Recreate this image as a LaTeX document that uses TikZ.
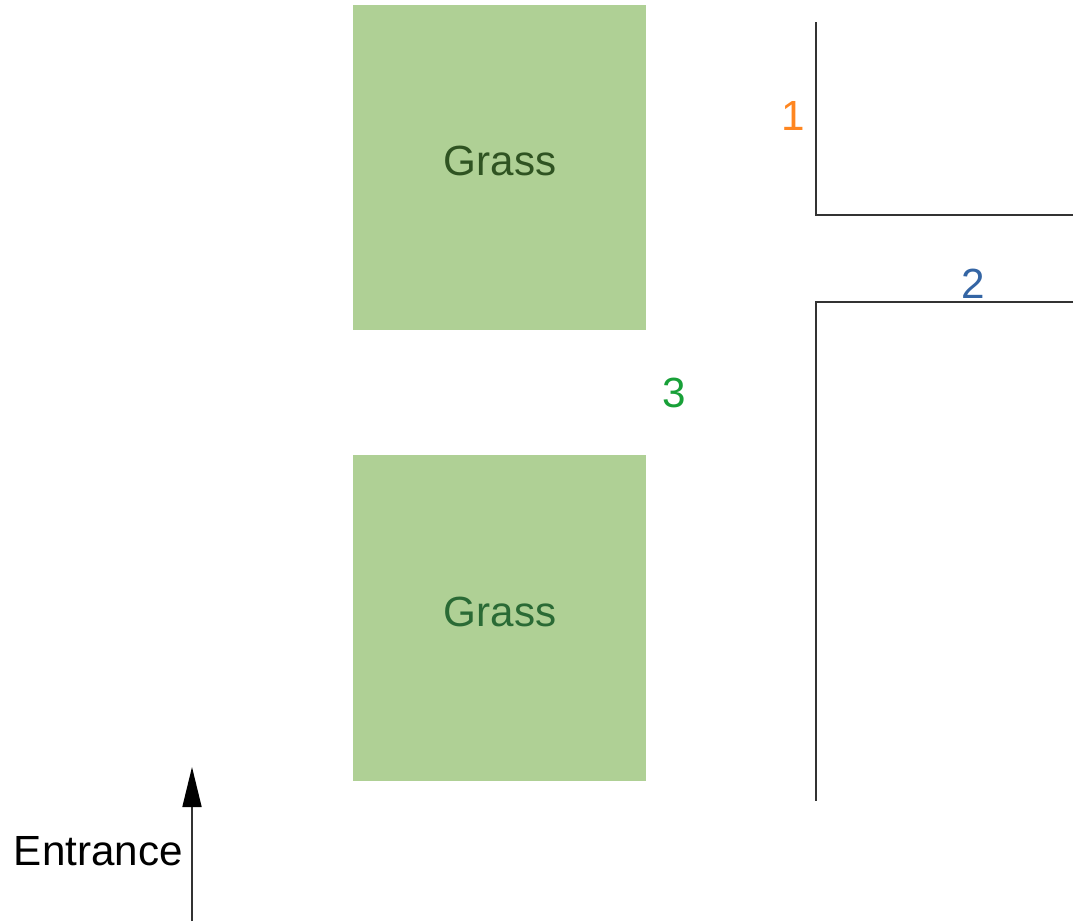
\documentclass[tikz,border=0pt]{standalone}
\usepackage{fontspec}
\setmainfont{Liberation Sans}
\usetikzlibrary{arrows.meta, positioning}

\definecolor{grassfill}{HTML}{AFD095}
\definecolor{wallcolor}{HTML}{333333}
\definecolor{oneorange}{HTML}{FF8620}
\definecolor{twoblue}{HTML}{3465A4}
\definecolor{threegreen}{HTML}{18A038}
\definecolor{grassdark}{HTML}{2F5322}
\definecolor{grassmid}{HTML}{2A6A35}

\begin{document}
\begin{tikzpicture}[
    x=0.03cm, y=-0.03cm,
    grass patch/.style={rectangle, fill=grassfill, minimum width=8.79cm, minimum height=9.75cm, inner sep=0pt},
    map label/.style={inner sep=0pt, font=\fontsize{36}{40}\selectfont},
    wall/.style={draw=wallcolor, line width=1.5pt},
    way arrow/.style={draw=black!80, line width=1.5pt, -{Triangle[length=1.2cm, width=0.57cm, fill=black, color=black]}}
]
        \useasboundingbox (0, 0) rectangle (1083, 922);

        \node[grass patch] (upper patch) at (499.5, 167.5) {};
        \node[grass patch] (lower patch) at (499.5, 618) {};
        \node[map label, text=grassdark] (upper grass) at (500, 161) {Grass};
        \node[map label, text=grassmid] (lower grass) at (500, 612) {Grass};

        \node[map label, text=oneorange] (one) at (793, 116) {1};
        \node[map label, text=twoblue] (two) at (973, 284) {2};
        \node[map label, text=threegreen] (three) at (674, 393) {3};
        \node[map label, anchor=east] (entrance) at (183, 851) {Entrance};

        \coordinate (top wall start) at (816, 22);
        \coordinate (top wall corner) at (816, 215);
        \coordinate (top wall end) at (1073, 215);
        \coordinate (low wall end) at (1073, 302);
        \coordinate (low wall corner) at (816, 302);
        \coordinate (low wall start) at (816, 801);
        \coordinate (arrow start) at (192, 921);
        \coordinate (arrow end) at (192, 767);

        \draw[wall] (top wall start) -- (top wall corner) -- (top wall end);
        \draw[wall] (low wall end) -- (low wall corner) -- (low wall start);
        \draw[way arrow] (arrow start) -- (arrow end);
    \end{tikzpicture}
\end{document}
